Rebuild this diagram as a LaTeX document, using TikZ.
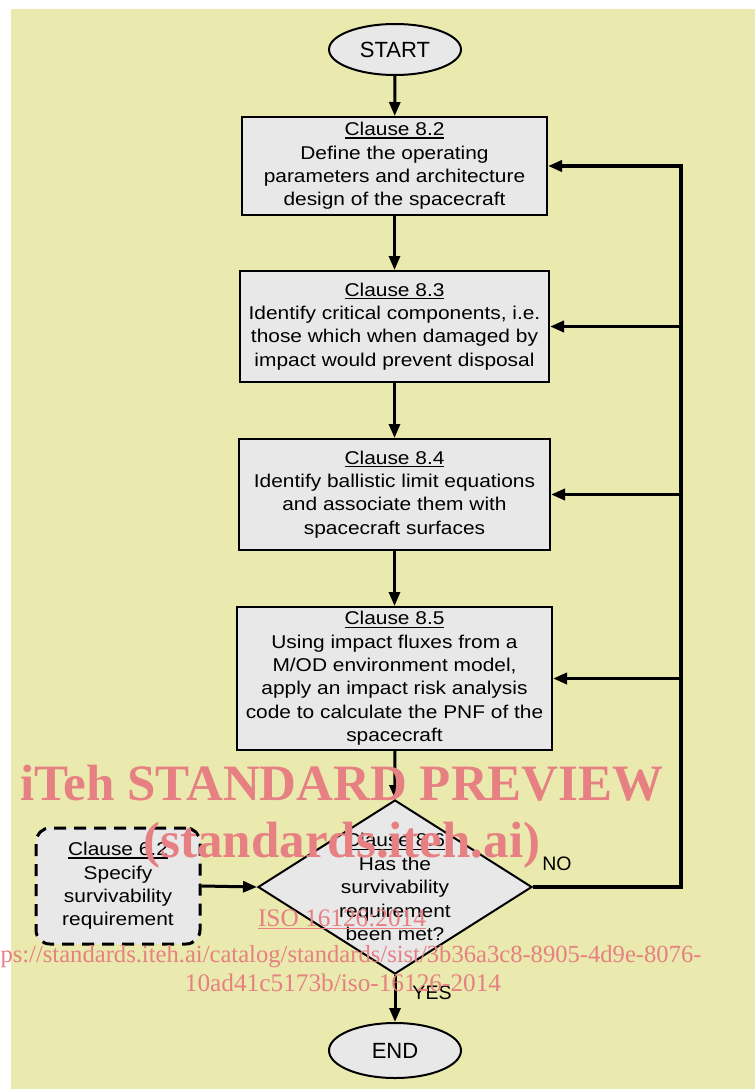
\documentclass[tikz,border=0pt]{standalone}
\usepackage{fontspec}
\setmainfont{Liberation Sans}[FakeStretch=1.13]
\newfontfamily\plainsans{Liberation Sans}
\newfontfamily\wmfont{Liberation Serif}
\usetikzlibrary{arrows.meta,shapes.geometric}
\definecolor{bgyellow}{RGB}{234,233,174}
\definecolor{boxgray}{RGB}{232,232,232}
\definecolor{wmred}{RGB}{230,128,130}
\newcommand\clausehead[1]{\leavevmode\vtop{\hbox{#1}\kern1.6pt\hrule height 1.2pt}}
\begin{document}
\begin{tikzpicture}[x=1pt,y=-1pt,
  txt/.style={align=center,inner sep=0pt,font=\fontsize{18.5}{23.4}\selectfont},
  stepbox/.style={txt,draw=black,line width=2pt,fill=boxgray},
  inbox/.style={txt,draw=black,line width=3pt,fill=boxgray,dash pattern=on 12pt off 8pt,rounded corners=14pt},
  term/.style={ellipse,draw=black,line width=2pt,fill=boxgray,inner sep=0pt,font=\plainsans\fontsize{22}{26}\selectfont},
  decision/.style={diamond,draw=black,line width=2pt,fill=boxgray,inner sep=0pt},
  flow/.style={line width=3pt,-{Triangle[length=14pt,width=11pt]}},
  lbl/.style={inner sep=0pt,font=\plainsans\fontsize{19.5}{22}\selectfont},
  wmbig/.style={inner sep=0pt,anchor=base,text=wmred,font=\wmfont\bfseries\fontsize{51}{55}\selectfont},
  wmsmall/.style={inner sep=0pt,anchor=base,text=wmred,font=\wmfont\fontsize{25.3}{28}\selectfont}]
\fill[white] (0,0) rectangle (755,1089);
\fill[bgyellow] (11,9) rectangle (755,1089);
\useasboundingbox (0,0) rectangle (755,1089);

\node[term,minimum width=132pt,minimum height=51pt] (start) at (395,49.5) {START};
\node[stepbox,minimum width=305pt,minimum height=98pt] (b1) at (394.5,166)
  {\clausehead{Clause 8.2}\\Define the operating\\parameters and architecture\\design of the spacecraft};
\node[stepbox,minimum width=309pt,minimum height=111pt] (b2) at (394.5,326.5)
  {\clausehead{Clause 8.3}\\Identify critical components, i.e.\\those which when damaged by\\impact would prevent disposal};
\node[stepbox,minimum width=311pt,minimum height=111pt] (b3) at (394.5,494.5)
  {\clausehead{Clause 8.4}\\Identify ballistic limit equations\\and associate them with\\spacecraft surfaces};
\node[stepbox,minimum width=315pt,minimum height=143pt] (b4) at (394.5,678.5)
  {\clausehead{Clause 8.5}\\Using impact fluxes from a\\M/OD environment model,\\apply an impact risk analysis\\code to calculate the PNF of the\\spacecraft};
\node[decision,minimum width=274pt,minimum height=174pt] (dec) at (395,887) {};
\node[txt] (dectext) at (dec.center)
  {\clausehead{Clause 8.6}\\Has the\\survivability\\requirement\\been met?};
\node[inbox,minimum width=164pt,minimum height=116pt] (c62) at (118,886)
  {\clausehead{Clause 6.2}\\Specify\\survivability\\requirement};
\node[term,minimum width=132pt,minimum height=55pt] (end) at (395,1050.5) {END};

\coordinate (fbx) at (681,0);
\draw[flow] (start) -- (b1);
\draw[flow] (b1) -- (b2);
\draw[flow] (b2) -- (b3);
\draw[flow] (b3) -- (b4);
\draw[flow] (b4) -- (dec.north);
\draw[flow] (dec.south) -- (end);
\draw[flow] (c62.east) -- (dec.west);
\draw[flow,line width=3.5pt] (dec.east) -- (dec.east -| fbx) |- (b1.east);
\draw[flow,line width=3.5pt] (b2.east -| fbx) -- (b2.east);
\draw[flow,line width=3.5pt] (b3.east -| fbx) -- (b3.east);
\draw[flow,line width=3.5pt] (b4.east -| fbx) -- (b4.east);

\node[lbl] (no) at (557,864) {NO};
\node[lbl] (yes) at (432,993) {YES};

\node[wmbig] (wm1) at (342,800) {iTeh STANDARD PREVIEW};
\node[wmbig] (wm2) at (342,857) {(standards.iteh.ai)};
\node[wmsmall] (wm3) at (342,926) {\underline{ISO 16126:2014}};
\node[wmsmall,font=\wmfont\fontsize{24.6}{28}\selectfont] (wm4) at (338,962) {https://standards.iteh.ai/catalog/standards/sist/3b36a3c8-8905-4d9e-8076-};
\node[wmsmall] (wm5) at (343,991) {10ad41c5173b/iso-16126-2014};
\end{tikzpicture}
\end{document}
